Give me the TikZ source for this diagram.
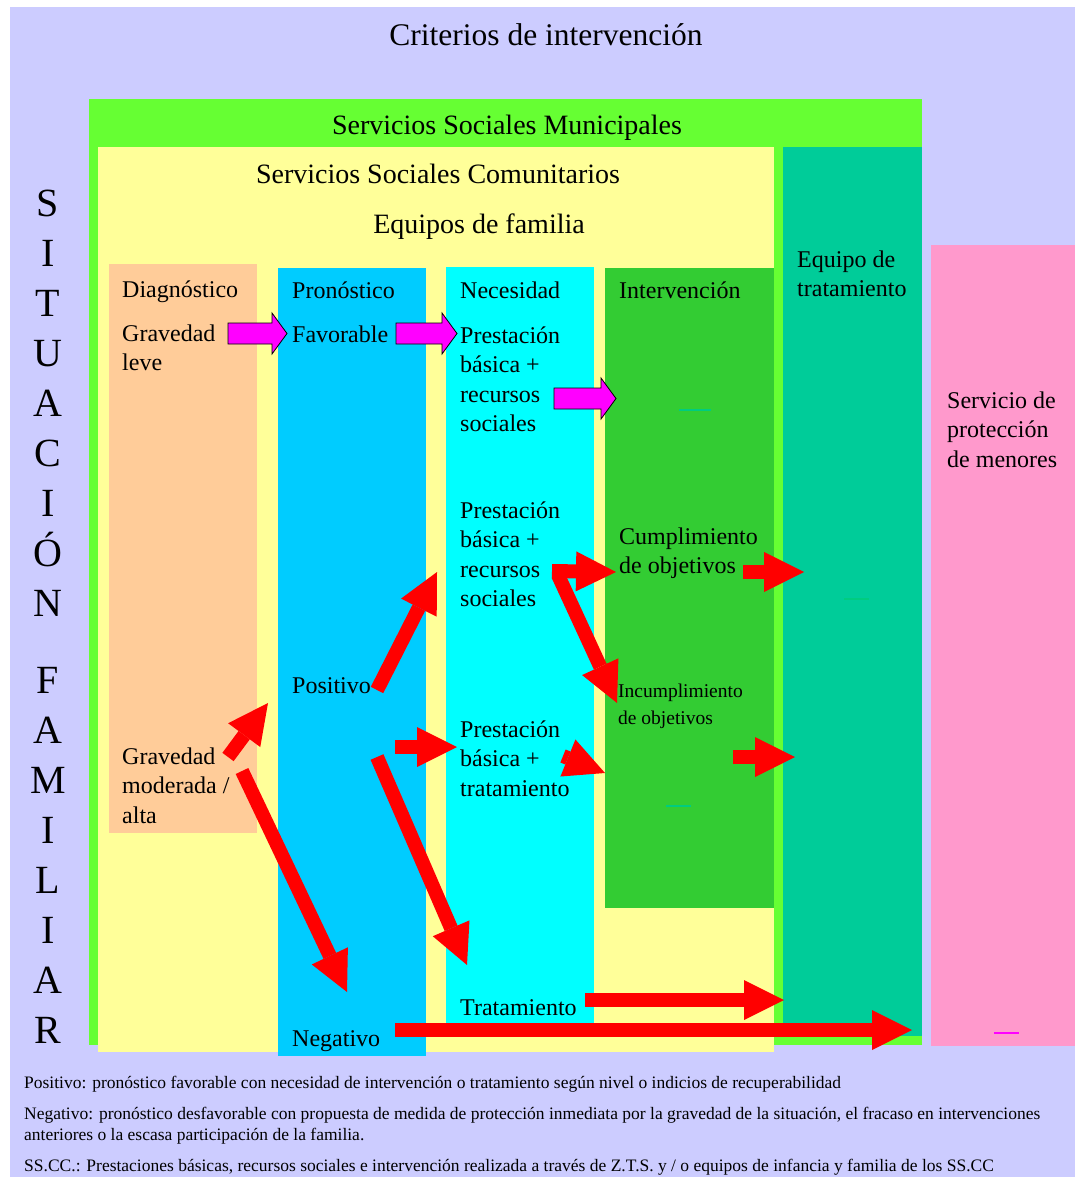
\documentclass[tikz,border=0pt]{standalone}
\usepackage{fontspec}
\setmainfont{Liberation Serif}
\usetikzlibrary{arrows.meta,calc}

\definecolor{fondo}{HTML}{CCCCFF}
\definecolor{municipal}{HTML}{66FF33}
\definecolor{comunitario}{HTML}{FFFF99}
\definecolor{equipotrat}{HTML}{00CC99}
\definecolor{diagcol}{HTML}{FFCC99}
\definecolor{pronocol}{HTML}{00CCFF}
\definecolor{nececol}{HTML}{00FFFF}
\definecolor{intercol}{HTML}{33CC33}
\definecolor{protecol}{HTML}{FF99CC}
\definecolor{flechapink}{HTML}{FF00FF}
\definecolor{guion}{HTML}{00CC80}

% first-baseline aligned stack of left-aligned lines
\newcommand\lineas[1]{\vtop{\halign{##\hfil\cr#1\crcr}}}
% stack of centred letters
\newcommand\letras[1]{\vtop{\halign{\hfil##\hfil\cr#1\crcr}}}

% outlined block arrow pointing right, from (#1) to the tip (#2)
\newcommand\flechabloque[2]{%
  \draw[pinkblock] let \p1=(#1), \p2=(#2) in
    (\x1,\y1-10.5pt) -- (\x2-15pt,\y1-10.5pt) -- (\x2-15pt,\y1-20.5pt) -- (\x2,\y1)
    -- (\x2-15pt,\y1+20.5pt) -- (\x2-15pt,\y1+10.5pt) -- (\x1,\y1+10.5pt) -- cycle;}

\tikzset{
  lbl/.style={anchor=base west, inner sep=0pt, font=\fontsize{24}{29.5}\selectfont},
  lblsmall/.style={anchor=base west, inner sep=0pt, font=\fontsize{19.5}{27}\selectfont},
  heading/.style={anchor=base, inner sep=0pt, font=\fontsize{28}{33}\selectfont},
  nota/.style={anchor=base west, inner sep=0pt, font=\fontsize{17.5}{21}\selectfont},
  redarrow/.style={draw=red, line width=14pt,
    -{Triangle[width=40pt,length=40pt,line width=0pt]}},
  pinkblock/.style={fill=flechapink, draw=black, line width=0.8pt, line join=miter},
  guionstyle/.style={line width=2.5pt},
}

\begin{document}
\begin{tikzpicture}[x=1pt,y=-1pt]
\useasboundingbox (0,0) rectangle (1075,1177);

% coloured areas
\fill[fondo] (10,7) rectangle (1075,1177);
\fill[municipal] (89,99) rectangle (922,1045);
\fill[comunitario] (98,147) rectangle (774,1052);
\fill[equipotrat] (783,147) rectangle (922,1036);
\fill[protecol] (931,245) rectangle (1075,1046);
\fill[diagcol] (109,264) rectangle (257,833);
\fill[pronocol] (278,268) rectangle (426,1056);
\fill[nececol] (446,267) rectangle (594,1024);
\fill[intercol] (605,268) rectangle (774,908);

% headings
\node[heading, font=\fontsize{31.5}{36}\selectfont] (titulo) at (546,46) {Criterios de intervención};
\node[heading] (ssm) at (507,135) {Servicios Sociales Municipales};
\node[heading] (ssc) at (438,183) {Servicios Sociales Comunitarios};
\node[heading] (equipos) at (479,233) {Equipos de familia};

% vertical label
\node[anchor=base, inner sep=0pt, font=\fontsize{40}{50}\selectfont] (situacion) at (48,216)
  {\letras{S\cr I\cr T\cr U\cr A\cr C\cr I\cr Ó\cr N\cr\noalign{\vskip 27pt}F\cr A\cr M\cr I\cr L\cr I\cr A\cr R}};

% column texts
\node[lbl] (diag) at (122,297) {Diagnóstico};
\node[lbl] (leve) at (122,341) {\lineas{Gravedad\cr leve}};
\node[lbl] (moderada) at (122,764) {\lineas{Gravedad\cr moderada /\cr alta}};

\node[lbl] (prono) at (292,298) {Pronóstico};
\node[lbl] (favorable) at (292,342) {Favorable};
\node[lbl] (positivo) at (292,693) {Positivo};
\node[lbl] (negativo) at (292,1046) {Negativo};

\node[lbl] (necesidad) at (460,298) {Necesidad};
\node[lbl] (prestA) at (460,343) {\lineas{Prestación\cr básica +\cr recursos\cr sociales}};
\node[lbl] (prestB) at (460,518) {\lineas{Prestación\cr básica +\cr recursos\cr sociales}};
\node[lbl] (prestC) at (460,737) {\lineas{Prestación\cr básica +\cr tratamiento}};
\node[lbl] (tratamiento) at (460,1015) {Tratamiento};

\node[lbl] (intervencion) at (619,298) {Intervención};
\node[lbl] (cumple) at (619,544) {\lineas{Cumplimiento\cr de objetivos}};
\node[lblsmall] (incumple) at (618,697) {\lineas{Incumplimiento\cr de objetivos}};

\node[lbl] (equipotr) at (797,267) {\lineas{Equipo de\cr tratamiento}};
\node[lbl] (proteccion) at (947,408) {\lineas{Servicio de\cr protección\cr de menores}};

% notes
\node[nota] (notaA) at (24,1088) {Positivo: pronóstico favorable con necesidad de intervención o tratamiento según nivel o indicios de recuperabilidad};
\node[nota] (notaB) at (24,1119) {\lineas{Negativo: pronóstico desfavorable con propuesta de medida de protección inmediata por la gravedad de la situación, el fracaso en intervenciones\cr anteriores o la escasa participación de la familia.}};
\node[nota] (notaC) at (24,1171) {SS.CC.: Prestaciones básicas, recursos sociales e intervención realizada a través de Z.T.S. y / o equipos de infancia y familia de los SS.CC};

% small marks
\draw[guionstyle, guion] (679,410) -- (711,410);
\draw[guionstyle, guion] (844,599) -- (869,599);
\draw[guionstyle, guion] (666,806) -- (691,806);
\draw[guionstyle, flechapink] (994,1033) -- (1019,1033);

% arrow end points
\coordinate (leveE) at (228,333.5);   \coordinate (favW) at (287,333.5);
\coordinate (favE) at (396,333.5);    \coordinate (prestAW) at (457,333.5);
\coordinate (prestAE) at (554,398.5); \coordinate (interW) at (616,398.5);

\coordinate (posNE) at (377,690);     \coordinate (prestBW) at (437,572);
\coordinate (prestBE) at (552,571);   \coordinate (cumpleW) at (616,572);
\coordinate (prestBS) at (558,575);   \coordinate (incumpleW) at (617,703);
\coordinate (cumpleE) at (743,572);   \coordinate (equipoA) at (804,572);
\coordinate (posE) at (395,747);      \coordinate (prestCW) at (457,747);
\coordinate (prestCE) at (563,756);   \coordinate (interC) at (605,773);
\coordinate (incumpleE) at (733,757); \coordinate (equipoB) at (795,757);
\coordinate (modNE) at (228,757);     \coordinate (pronoM) at (268,703);
\coordinate (modSE) at (242,771);     \coordinate (negN) at (347,992);
\coordinate (posSE) at (377,757);     \coordinate (tratN) at (467,965);
\coordinate (tratE) at (585,1000);    \coordinate (equipoC) at (784,1000);
\coordinate (negE) at (395,1030);     \coordinate (protW) at (912,1030);

% favourable path
\flechabloque{leveE}{favW}
\flechabloque{favE}{prestAW}
\flechabloque{prestAE}{interW}

% moderate / high severity paths
\draw[redarrow] (modNE) -- (pronoM);
\draw[redarrow] (modSE) -- (negN);
\draw[redarrow] (posNE) -- (prestBW);
\draw[redarrow] (posE) -- (prestCW);
\draw[redarrow] (posSE) -- (tratN);
\draw[redarrow] (prestBE) -- (cumpleW);
\draw[redarrow] (prestBS) -- (incumpleW);
\draw[redarrow] (prestCE) -- (interC);
\draw[redarrow] (cumpleE) -- (equipoA);
\draw[redarrow] (incumpleE) -- (equipoB);
\draw[redarrow] (tratE) -- (equipoC);
\draw[redarrow] (negE) -- (protW);
\end{tikzpicture}
\end{document}
